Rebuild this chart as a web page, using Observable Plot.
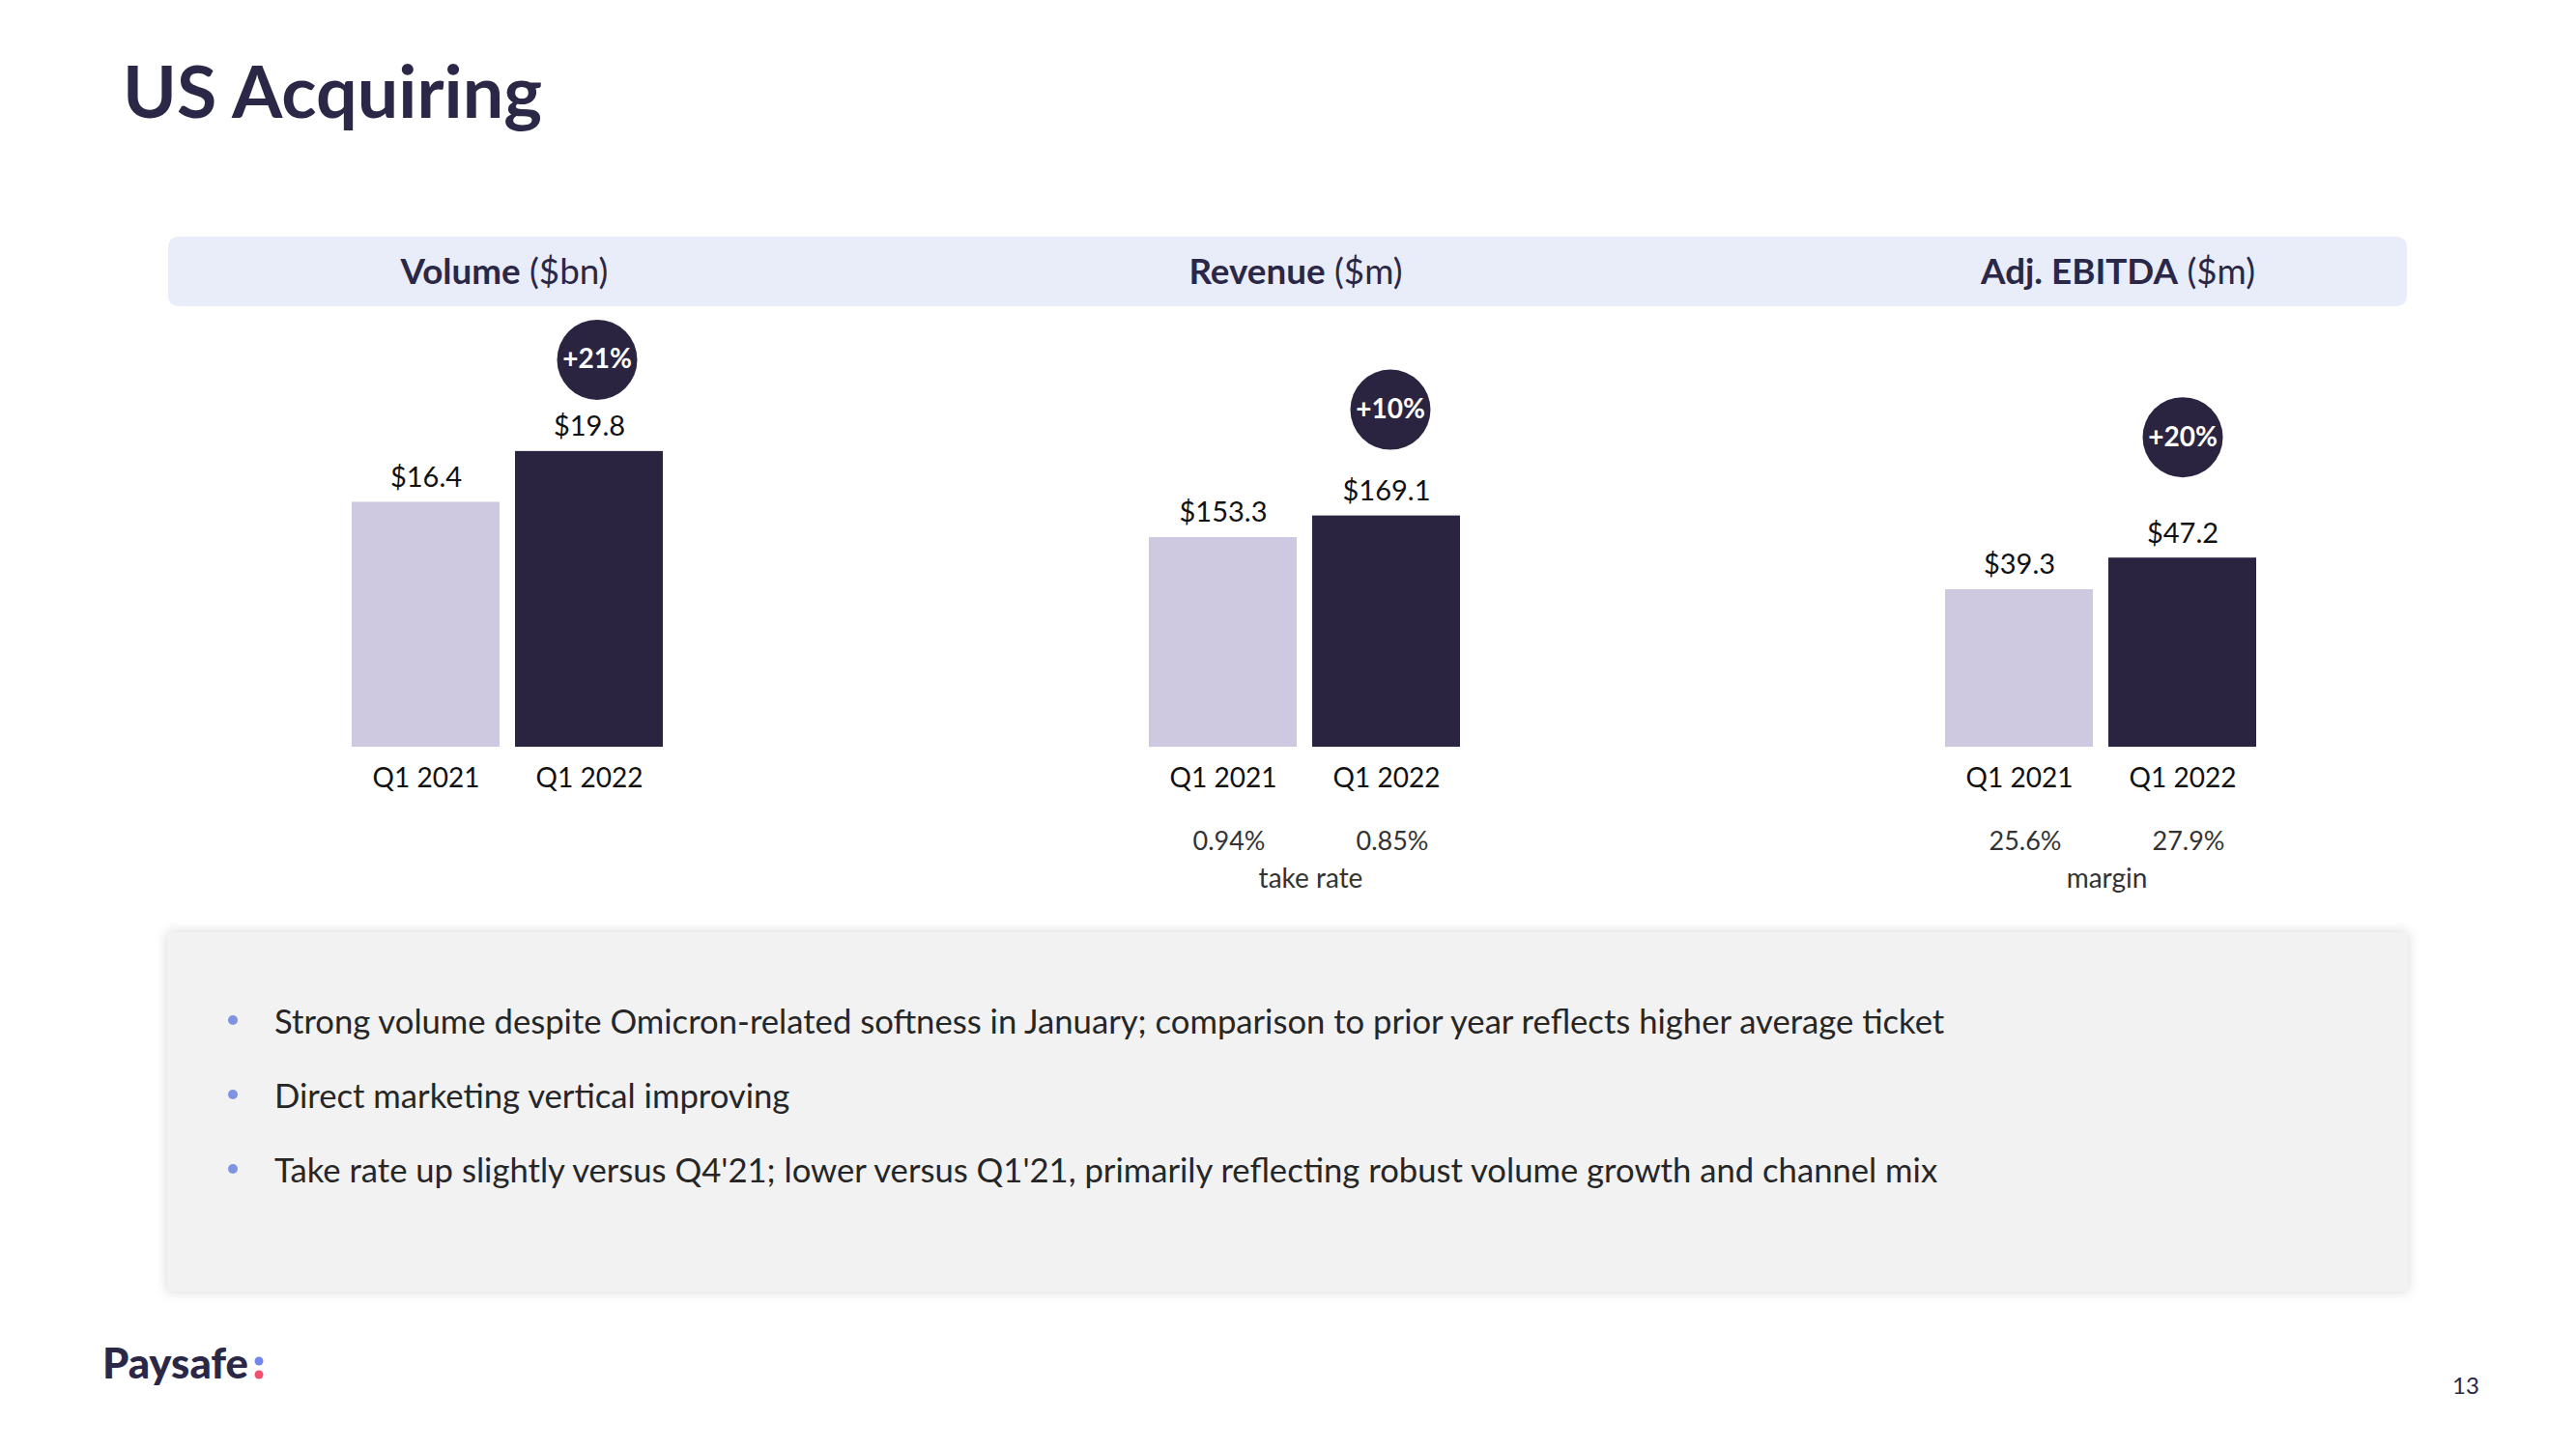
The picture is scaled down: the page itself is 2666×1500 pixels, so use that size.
<!DOCTYPE html>
<html>
<head>
<meta charset="utf-8">
<script src="https://cdn.jsdelivr.net/npm/d3@7"></script>
<script src="https://cdn.jsdelivr.net/npm/@observablehq/plot@0.6"></script>
<style>
  html, body { margin: 0; padding: 0; background: #ffffff; }
  #page { position: relative; width: 2666px; height: 1500px; overflow: hidden; font-family: Lato, "Noto Sans", sans-serif; }
  .band { position: absolute; left: 174px; top: 245px; width: 2317px; height: 72px; background: #E9EDF9; border-radius: 10px; }
  .box { position: absolute; left: 173px; top: 965px; width: 2319px; height: 372px; background: #F2F2F2; box-shadow: 0 0 12px rgba(0,0,0,0.16); }
  .panel { position: absolute; top: 320px; }
  #overlay { position: absolute; left: 0; top: 0; }
</style>
</head>
<body>
<div id="page">
  <div class="band"></div>
  <div class="box"></div>
</div>
<script>
// ---------- data ----------
const titleText = "US Acquiring";
const periods = ["Q1 2021", "Q1 2022"];
const panelTitles = ["Volume", "Revenue", "Adj. EBITDA"];
const panelUnits = ["($bn)", "($m)", "($m)"];
const volume = [16.4, 19.8];
const revenue = [153.3, 169.1];
const ebitda = [39.3, 47.2];
const growth = ["+21%", "+10%", "+20%"];
const takeRate = ["0.94%", "0.85%"];
const ebitdaMargin = ["25.6%", "27.9%"];
const footnotes = [null, "take rate", "margin"];
const bullets = [
  "Strong volume despite Omicron-related softness in January; comparison to prior year reflects higher average ticket",
  "Direct marketing vertical improving",
  "Take rate up slightly versus Q4'21; lower versus Q1'21, primarily reflecting robust volume growth and channel mix"
];
const brand = "Paysafe";
const pageNumber = "13";

// ---------- styles ----------
const LIGHT = "#CEC8E0";
const DARK = "#2B2441";
const NAVY = "#2B2747";

const panelCfg = [
  {values: volume,  subs: null,          yMax: 29.3,  left: 275,  cdy: -95,  cdx: 8},
  {values: revenue, subs: takeRate,      yMax: 320,   left: 1100, cdy: -110, cdx: 4},
  {values: ebitda,  subs: ebitdaMargin,  yMax: 109.2, left: 1924, cdy: -125, cdx: 0}
];

const page = document.getElementById("page");

panelCfg.forEach((cfg, i) => {
  const rows = periods.map((p, j) => ({period: p, value: cfg.values[j], sub: cfg.subs ? cfg.subs[j] : null}));
  const marks = [
    Plot.barY(rows, {x: "period", y: "value", fill: "period"}),
    Plot.text(rows, {x: "period", y: "value", text: d => "$" + d.value.toFixed(1), lineAnchor: "bottom", dy: -16, fontSize: 29, fill: "#111"}),
    Plot.axisX({tickSize: 0, tickPadding: 22, fontSize: 28, label: null, fill: "#111"}),
    Plot.dot([rows[1]], {x: "period", y: "value", r: 41.5, fill: DARK, dy: cfg.cdy, dx: cfg.cdx}),
    Plot.text([rows[1]], {x: "period", y: "value", text: () => growth[i], fill: "#fff", fontWeight: 700, fontSize: 28, dy: cfg.cdy, dx: cfg.cdx})
  ];
  if (cfg.subs) {
    marks.push(Plot.text(rows, {x: "period", text: "sub", frameAnchor: "bottom", lineAnchor: "bottom", dy: 106, dx: 6, fontSize: 27, fill: "#333"}));
  }
  if (footnotes[i]) {
    marks.push(Plot.text([footnotes[i]], {text: d => d, frameAnchor: "bottom", lineAnchor: "bottom", dy: 145, dx: 6, fontSize: 28, fill: "#333"}));
  }
  const chart = Plot.plot({
    width: 500,
    height: 613,
    marginTop: 0,
    marginLeft: 88,
    marginRight: 88,
    marginBottom: 160,
    x: {type: "band", domain: periods, paddingInner: 0.094, paddingOuter: 0},
    y: {domain: [0, cfg.yMax], axis: null},
    color: {domain: periods, range: [LIGHT, DARK]},
    style: {fontFamily: "Lato, 'Noto Sans', sans-serif", background: "transparent", overflow: "visible", color: "#111"},
    marks
  });
  chart.classList.add("panel");
  chart.style.left = cfg.left + "px";
  chart.style.top = "320px";
  chart.style.position = "absolute";
  page.appendChild(chart);
});

// ---------- overlay text ----------
const ov = d3.select(page).append("svg").attr("id", "overlay").attr("width", 2666).attr("height", 1500);
const FONT = "Lato, 'Noto Sans', sans-serif";
function fit(sel, target) {
  const w = sel.node().getComputedTextLength();
  const fs = parseFloat(sel.attr("font-size"));
  return fs * target / w;
}

// title
const title = ov.append("text").attr("x", 127).attr("y", 122).attr("font-family", FONT)
  .attr("font-weight", 700).attr("font-size", 80).attr("fill", NAVY).text(titleText);
title.attr("font-size", fit(title, 434));

// panel headers
const headerX = [522, 1341, 2192];
const headerW = [217, 226, 275];
const heads = panelTitles.map((t, i) => {
  const h = ov.append("text").attr("x", headerX[i]).attr("y", 294).attr("text-anchor", "middle")
    .attr("font-family", FONT).attr("font-size", 34).attr("fill", NAVY);
  h.append("tspan").attr("font-weight", 700).text(t);
  h.append("tspan").attr("font-weight", 400).text(" " + panelUnits[i]);
  return h;
});
const hs = d3.mean(heads.map((h, i) => fit(h, headerW[i])));
heads.forEach(h => h.attr("font-size", hs));

// bullets
const bulletY = [1070, 1147, 1224];
const bl = bullets.map((b, i) => {
  ov.append("circle").attr("cx", 241).attr("cy", bulletY[i] - 14).attr("r", 5).attr("fill", "#7F93E3");
  return ov.append("text").attr("x", 284).attr("y", bulletY[i]).attr("font-family", FONT)
    .attr("font-size", 34).attr("fill", "#262626").text(b);
});
const bs = fit(bl[0], 1729);
bl.forEach(t => t.attr("font-size", bs));

// logo
const logo = ov.append("text").attr("x", 106).attr("y", 1427).attr("font-family", FONT)
  .attr("font-weight", 900).attr("font-size", 40).attr("fill", NAVY).text(brand);
logo.attr("font-size", fit(logo, 151));
ov.append("circle").attr("cx", 268).attr("cy", 1409).attr("r", 4.5).attr("fill", "#6F87EA");
ov.append("circle").attr("cx", 268).attr("cy", 1423).attr("r", 4.5).attr("fill", "#F2506E");

// page number
ov.append("text").attr("x", 2538).attr("y", 1443).attr("font-family", FONT)
  .attr("font-size", 24).attr("fill", NAVY).text(pageNumber);
</script>
</body>
</html>
